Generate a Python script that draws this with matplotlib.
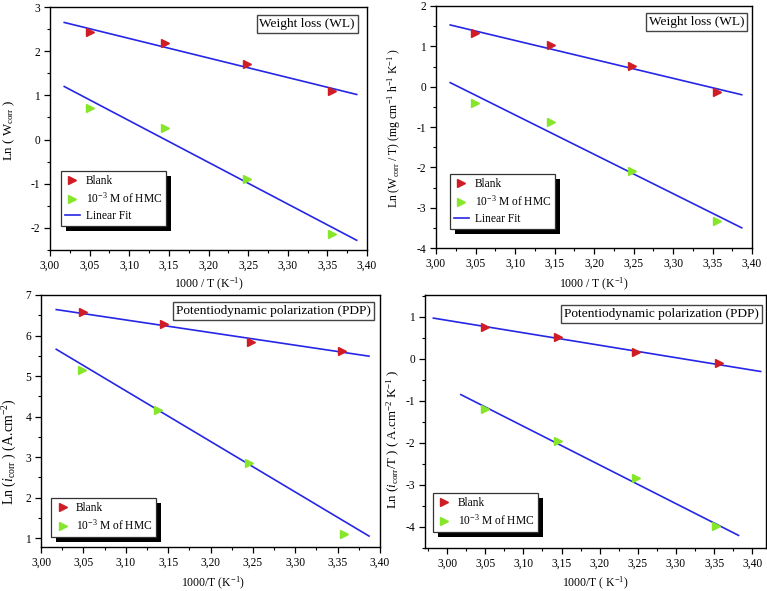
import matplotlib
matplotlib.use("Agg")
import matplotlib.pyplot as plt
import numpy as np
from matplotlib.ticker import MultipleLocator, FuncFormatter
from matplotlib.patches import Rectangle
from matplotlib.transforms import IdentityTransform
from matplotlib.lines import Line2D

plt.rcParams['font.family'] = ['Liberation Serif', 'DejaVu Serif']
plt.rcParams['mathtext.fontset'] = 'custom'
plt.rcParams['mathtext.rm'] = 'Liberation Serif'
plt.rcParams['mathtext.it'] = 'Liberation Serif:italic'
plt.rcParams['mathtext.bf'] = 'Liberation Serif:bold'

# ---------------- data ----------------
# Panel 1: Weight loss, Ln(Wcorr)
p1_x = [3.050, 3.145, 3.248, 3.356]
p1_blank = [2.43, 2.18, 1.70, 1.10]
p1_hmc = [0.71, 0.26, -0.89, -2.13]
p1_fit_x = [3.018, 3.387]
p1_blank_fit = [2.65, 1.02]
p1_hmc_fit = [1.20, -2.28]

# Panel 2: Weight loss, Ln(Wcorr/T)
p2_x = [3.050, 3.145, 3.248, 3.356]
p2_blank = [1.32, 1.03, 0.52, -0.12]
p2_hmc = [-0.41, -0.88, -2.08, -3.33]
p2_fit_x = [3.018, 3.387]
p2_blank_fit = [1.53, -0.20]
p2_hmc_fit = [0.10, -3.50]

# Panel 3: PDP, Ln(icorr)
p3_blank_x = [3.050, 3.145, 3.248, 3.355]
p3_blank = [6.57, 6.29, 5.85, 5.61]
p3_hmc_x = [3.048, 3.138, 3.245, 3.357]
p3_hmc = [5.15, 4.17, 2.86, 1.10]
p3_fit_x = [3.018, 3.387]
p3_blank_fit = [6.64, 5.49]
p3_hmc_fit = [5.66, 1.05]

# Panel 4: PDP, Ln(icorr/T)
p4_blank_x = [3.050, 3.145, 3.248, 3.356]
p4_blank = [0.76, 0.53, 0.16, -0.10]
p4_hmc_x = [3.050, 3.145, 3.247, 3.352]
p4_hmc = [-1.19, -1.95, -2.83, -3.98]
p4_blank_fit_x = [2.982, 3.411]
p4_blank_fit = [0.97, -0.30]
p4_hmc_fit_x = [3.018, 3.382]
p4_hmc_fit = [-0.85, -4.20]

lbl_blank = "Blank"
lbl_hmc = "10$^{-3}$ M of HMC"
lbl_fit = "Linear Fit"

RED = '#d01c24'
GREEN = '#86e62a'
BLUE = '#2626e6'

W, H = 767, 591
fig = plt.figure(figsize=(W / 100, H / 100), dpi=100)


def add_ax(l, r, t, b):
    return fig.add_axes([l / W, 1 - b / H, (r - l) / W, (b - t) / H])


comma = FuncFormatter(lambda v, p: f"{v:.2f}".replace('.', ','))
intfmt = FuncFormatter(lambda v, p: f"{int(round(v))}")


def style(ax, xlim, ylim):
    ax.set_xlim(*xlim)
    ax.set_ylim(*ylim)
    ax.xaxis.set_major_locator(MultipleLocator(0.05))
    ax.xaxis.set_minor_locator(MultipleLocator(0.025))
    ax.yaxis.set_major_locator(MultipleLocator(1))
    ax.yaxis.set_minor_locator(MultipleLocator(0.5))
    ax.xaxis.set_major_formatter(comma)
    ax.yaxis.set_major_formatter(intfmt)
    ax.tick_params(which='major', direction='out', length=4, width=0.9,
                   labelsize=8.3, top=False, right=False, pad=3)
    ax.tick_params(which='minor', direction='out', length=2.5, width=0.8,
                   top=False, right=False)
    for s in ax.spines.values():
        s.set_linewidth(1.0)
        s.set_color('black')


def title_box(ax, txt, x, y, fs):
    ax.text(x, y, txt, transform=ax.transAxes, ha='right', va='top',
            fontsize=fs, zorder=6,
            bbox=dict(boxstyle='square,pad=0.2', facecolor='white',
                      edgecolor='#444444', linewidth=1.0))


def legend(ax, handles, labels, x, y):
    lg = ax.legend(handles, labels, loc='lower left', bbox_to_anchor=(x, y),
                   borderaxespad=0, frameon=True, fancybox=False,
                   edgecolor='#333333', facecolor='white', framealpha=1.0,
                   fontsize=8.3, handlelength=1.3, handletextpad=0.5,
                   borderpad=0.35, labelspacing=0.35)
    lg.get_frame().set_linewidth(0.9)
    lg.set_zorder(5)
    return lg


def mk(color):
    return Line2D([], [], linestyle='none', marker='>', markersize=6,
                  markerfacecolor=color, markeredgecolor=color)


fitline = Line2D([], [], color=BLUE, linewidth=1.2)

legends = []

# ---------- Panel 1 ----------
ax1 = add_ax(50, 367, 7, 250)
style(ax1, (3.00, 3.40), (-2.5, 3))
ax1.plot(p1_fit_x, p1_blank_fit, color=BLUE, lw=1.2, zorder=2)
ax1.plot(p1_fit_x, p1_hmc_fit, color=BLUE, lw=1.2, zorder=2)
ax1.plot(p1_x, p1_blank, '>', color=RED, ms=6, zorder=3)
ax1.plot(p1_x, p1_hmc, '>', color=GREEN, ms=6, zorder=3)
ax1.set_ylabel(r"Ln ( W$_{\mathrm{corr}}$ )", fontsize=9.3)
ax1.set_xlabel("1000 / T (K$^{-1}$)", fontsize=8.5)
ax1.yaxis.set_label_coords(-0.105, 0.49)
ax1.xaxis.set_label_coords(0.5, -0.105)
title_box(ax1, "Weight loss (WL)", 0.962, 0.955, 9.6)
legends.append((ax1, legend(ax1, [mk(RED), mk(GREEN), fitline],
                            [lbl_blank, lbl_hmc, lbl_fit], 0.034, 0.099)))

# ---------- Panel 2 ----------
ax2 = add_ax(436, 752, 6, 248)
style(ax2, (3.00, 3.40), (-4, 2))
ax2.plot(p2_fit_x, p2_blank_fit, color=BLUE, lw=1.2, zorder=2)
ax2.plot(p2_fit_x, p2_hmc_fit, color=BLUE, lw=1.2, zorder=2)
ax2.plot(p2_x, p2_blank, '>', color=RED, ms=6, zorder=3)
ax2.plot(p2_x, p2_hmc, '>', color=GREEN, ms=6, zorder=3)
ax2.set_ylabel(r"Ln (W$_{\mathrm{corr}}$ / T) (mg cm$^{-1}$ h$^{-1}$ K$^{-1}$ )",
               fontsize=8.5)
ax2.set_xlabel("1000 / T (K$^{-1}$)", fontsize=8.5)
ax2.yaxis.set_label_coords(-0.106, 0.496)
ax2.xaxis.set_label_coords(0.5, -0.115)
title_box(ax2, "Weight loss (WL)", 0.975, 0.959, 9.6)
legends.append((ax2, legend(ax2, [mk(RED), mk(GREEN), fitline],
                            [lbl_blank, lbl_hmc, lbl_fit], 0.044, 0.079)))

# ---------- Panel 3 ----------
ax3 = add_ax(41, 380, 295, 547)
style(ax3, (3.00, 3.40), (0.78, 7))
ax3.plot(p3_fit_x, p3_blank_fit, color=BLUE, lw=1.2, zorder=2)
ax3.plot(p3_fit_x, p3_hmc_fit, color=BLUE, lw=1.2, zorder=2)
ax3.plot(p3_blank_x, p3_blank, '>', color=RED, ms=6, zorder=3)
ax3.plot(p3_hmc_x, p3_hmc, '>', color=GREEN, ms=6, zorder=3)
ax3.set_ylabel(r"Ln ($i_{\mathrm{corr}}$ ) (A.cm$^{-2}$)", fontsize=10)
ax3.set_xlabel("1000/T (K$^{-1}$)", fontsize=8.5)
ax3.yaxis.set_label_coords(-0.066, 0.377)
ax3.xaxis.set_label_coords(0.507, -0.112)
title_box(ax3, "Potentiodynamic polarization (PDP)", 0.973, 0.96, 9.6)
legends.append((ax3, legend(ax3, [mk(RED), mk(GREEN)],
                            [lbl_blank, lbl_hmc], 0.03, 0.04)))

# ---------- Panel 4 ----------
ax4 = add_ax(425, 766, 295, 548)
style(ax4, (2.971, 3.418), (-4.5, 1.52))
ax4.plot(p4_blank_fit_x, p4_blank_fit, color=BLUE, lw=1.2, zorder=2)
ax4.plot(p4_hmc_fit_x, p4_hmc_fit, color=BLUE, lw=1.2, zorder=2)
ax4.plot(p4_blank_x, p4_blank, '>', color=RED, ms=6, zorder=3)
ax4.plot(p4_hmc_x, p4_hmc, '>', color=GREEN, ms=6, zorder=3)
ax4.set_ylabel(r"Ln ($i_{\mathrm{corr}}$/T ) ( A.cm$^{-2}$ K$^{-1}$ )", fontsize=9.3)
ax4.set_xlabel("1000/T ( K$^{-1}$)", fontsize=8.5)
ax4.yaxis.set_label_coords(-0.068, 0.431)
ax4.xaxis.set_label_coords(0.5, -0.105)
title_box(ax4, "Potentiodynamic polarization (PDP)", 0.979, 0.949, 9.6)
legends.append((ax4, legend(ax4, [mk(RED), mk(GREEN)],
                            [lbl_blank, lbl_hmc], 0.023, 0.063)))

# legend drop shadows (Origin style)
fig.canvas.draw()
for ax, lg in legends:
    bb = lg.get_window_extent()
    sh = Rectangle((bb.x0 + 5, bb.y0 - 5), bb.width, bb.height,
                   transform=IdentityTransform(), facecolor='black',
                   edgecolor='none', zorder=4.9, clip_on=False)
    ax.add_artist(sh)

fig.savefig("out.png", dpi=100)
